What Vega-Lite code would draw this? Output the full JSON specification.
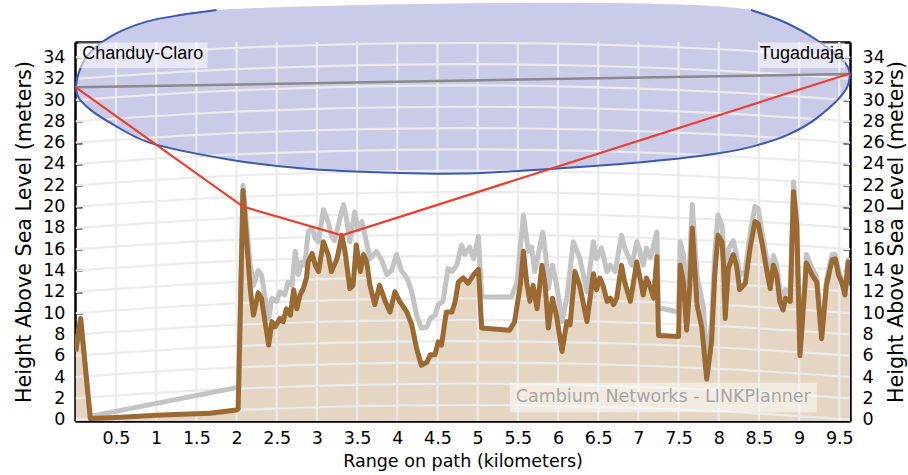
{
"$schema": "https://vega.github.io/schema/vega-lite/v6.json",
"width": 775, "height": 379,
"autosize": {"type": "none"},
"padding": {"left": 75, "top": 42, "right": 58, "bottom": 54},
"background": "#ffffff",
"config": {"view": {"stroke": null}, "font": "DejaVu Sans"},
"resolve": {"axis": {"x": "independent", "y": "independent"}},
"datasets": {
"terrain": [
{"x":0,"h":6.4},{"x":0.06,"h":9.5},{"x":0.18,"h":0.1},{"x":0.5,"h":0.2},{"x":1.0,"h":0.4},{"x":1.67,"h":0.6},{"x":2.0,"h":0.9},{"x":2.02,"h":1.0},{"x":2.08,"h":21.5},{"x":2.17,"h":12.3},{"x":2.21,"h":9.8},{"x":2.27,"h":11.9},{"x":2.31,"h":11.4},{"x":2.33,"h":10.4},{"x":2.40,"h":7.0},{"x":2.44,"h":9.2},{"x":2.48,"h":8.7},{"x":2.54,"h":9.5},{"x":2.58,"h":9.2},{"x":2.62,"h":10.4},{"x":2.67,"h":9.8},{"x":2.71,"h":12.2},{"x":2.75,"h":10.4},{"x":2.79,"h":11.7},{"x":2.83,"h":12.3},{"x":2.87,"h":13.3},{"x":2.89,"h":14.8},{"x":2.94,"h":15.6},{"x":2.98,"h":14.5},{"x":3.02,"h":13.9},{"x":3.08,"h":16.7},{"x":3.14,"h":15.5},{"x":3.18,"h":13.9},{"x":3.25,"h":15.1},{"x":3.31,"h":17.3},{"x":3.35,"h":15.8},{"x":3.41,"h":12.3},{"x":3.45,"h":12.6},{"x":3.49,"h":16.4},{"x":3.54,"h":13.9},{"x":3.58,"h":15.5},{"x":3.62,"h":14.8},{"x":3.66,"h":12.6},{"x":3.72,"h":10.8},{"x":3.78,"h":12.6},{"x":3.85,"h":11.1},{"x":3.91,"h":10.1},{"x":3.97,"h":12.0},{"x":4.03,"h":11.1},{"x":4.12,"h":10.1},{"x":4.18,"h":8.9},{"x":4.24,"h":6.7},{"x":4.30,"h":5.1},{"x":4.37,"h":5.4},{"x":4.41,"h":6.1},{"x":4.47,"h":6.1},{"x":4.51,"h":7.3},{"x":4.55,"h":7.0},{"x":4.61,"h":10.1},{"x":4.68,"h":10.1},{"x":4.72,"h":11.1},{"x":4.76,"h":12.9},{"x":4.82,"h":13.3},{"x":4.88,"h":12.8},{"x":4.95,"h":13.6},{"x":5.01,"h":14.1},{"x":5.05,"h":8.6},{"x":5.40,"h":8.4},{"x":5.46,"h":9.2},{"x":5.53,"h":12.6},{"x":5.57,"h":15.8},{"x":5.61,"h":12.9},{"x":5.65,"h":11.1},{"x":5.69,"h":12.6},{"x":5.74,"h":10.4},{"x":5.80,"h":14.5},{"x":5.84,"h":12.6},{"x":5.88,"h":8.6},{"x":5.93,"h":11.4},{"x":5.98,"h":9.8},{"x":6.05,"h":6.4},{"x":6.11,"h":9.2},{"x":6.15,"h":8.9},{"x":6.21,"h":13.9},{"x":6.27,"h":12.6},{"x":6.36,"h":9.2},{"x":6.44,"h":13.7},{"x":6.48,"h":12.2},{"x":6.52,"h":13.3},{"x":6.56,"h":12.6},{"x":6.61,"h":11.1},{"x":6.65,"h":11.4},{"x":6.69,"h":10.8},{"x":6.73,"h":11.4},{"x":6.79,"h":14.5},{"x":6.83,"h":12.9},{"x":6.90,"h":11.1},{"x":6.98,"h":14.8},{"x":7.02,"h":13.3},{"x":7.06,"h":11.7},{"x":7.10,"h":13.3},{"x":7.14,"h":12.6},{"x":7.19,"h":11.4},{"x":7.23,"h":15.3},{"x":7.25,"h":7.9},{"x":7.50,"h":7.8},{"x":7.52,"h":14.5},{"x":7.56,"h":12.9},{"x":7.60,"h":8.4},{"x":7.64,"h":12.6},{"x":7.67,"h":18.0},{"x":7.73,"h":10.8},{"x":7.79,"h":8.6},{"x":7.85,"h":3.8},{"x":7.91,"h":7.3},{"x":7.95,"h":13.6},{"x":7.99,"h":17.3},{"x":8.04,"h":16.7},{"x":8.06,"h":14.5},{"x":8.08,"h":9.5},{"x":8.12,"h":14.2},{"x":8.18,"h":15.5},{"x":8.22,"h":14.5},{"x":8.26,"h":12.2},{"x":8.33,"h":12.8},{"x":8.39,"h":16.1},{"x":8.45,"h":18.6},{"x":8.49,"h":18.4},{"x":8.54,"h":16.5},{"x":8.60,"h":13.9},{"x":8.64,"h":12.3},{"x":8.68,"h":14.5},{"x":8.72,"h":13.6},{"x":8.76,"h":11.1},{"x":8.80,"h":10.3},{"x":8.83,"h":11.4},{"x":8.89,"h":11.1},{"x":8.93,"h":21.4},{"x":8.97,"h":18.3},{"x":9.01,"h":6.0},{"x":9.07,"h":12.3},{"x":9.09,"h":14.7},{"x":9.16,"h":13.6},{"x":9.22,"h":12.9},{"x":9.28,"h":7.6},{"x":9.34,"h":12.6},{"x":9.41,"h":15.0},{"x":9.45,"h":15.1},{"x":9.49,"h":13.6},{"x":9.53,"h":12.9},{"x":9.57,"h":11.7},{"x":9.61,"h":14.8},{"x":9.65,"h":12.6}
],
"clutter": [
{"x":0,"h":6.4},{"x":0.06,"h":9.5},{"x":0.18,"h":0.3},{"x":2.0,"h":3.0},{"x":2.03,"h":3.1},{"x":2.08,"h":22.0},{"x":2.17,"h":14.5},{"x":2.21,"h":12.6},{"x":2.27,"h":14.0},{"x":2.31,"h":13.6},{"x":2.35,"h":11.7},{"x":2.40,"h":9.5},{"x":2.44,"h":11.4},{"x":2.50,"h":11.1},{"x":2.54,"h":12.0},{"x":2.60,"h":11.7},{"x":2.64,"h":12.9},{"x":2.69,"h":12.6},{"x":2.73,"h":15.8},{"x":2.77,"h":13.6},{"x":2.81,"h":14.8},{"x":2.85,"h":14.5},{"x":2.89,"h":17.6},{"x":2.94,"h":18.0},{"x":2.98,"h":17.0},{"x":3.02,"h":16.7},{"x":3.08,"h":19.7},{"x":3.14,"h":18.6},{"x":3.18,"h":17.3},{"x":3.22,"h":16.8},{"x":3.29,"h":19.0},{"x":3.33,"h":20.2},{"x":3.37,"h":18.8},{"x":3.41,"h":16.7},{"x":3.47,"h":19.5},{"x":3.51,"h":17.8},{"x":3.56,"h":18.6},{"x":3.61,"h":16.9},{"x":3.66,"h":15.1},{"x":3.74,"h":15.8},{"x":3.80,"h":15.1},{"x":3.87,"h":13.6},{"x":3.93,"h":14.0},{"x":3.99,"h":15.5},{"x":4.05,"h":14.0},{"x":4.12,"h":13.3},{"x":4.18,"h":12.0},{"x":4.24,"h":9.8},{"x":4.30,"h":8.6},{"x":4.37,"h":8.7},{"x":4.41,"h":9.5},{"x":4.47,"h":9.8},{"x":4.51,"h":10.8},{"x":4.57,"h":11.1},{"x":4.63,"h":14.2},{"x":4.68,"h":13.9},{"x":4.74,"h":14.5},{"x":4.80,"h":16.4},{"x":4.84,"h":15.5},{"x":4.90,"h":16.2},{"x":4.95,"h":15.1},{"x":5.01,"h":17.2},{"x":5.05,"h":11.5},{"x":5.42,"h":11.5},{"x":5.49,"h":12.9},{"x":5.57,"h":19.2},{"x":5.63,"h":15.8},{"x":5.67,"h":16.2},{"x":5.71,"h":13.9},{"x":5.81,"h":17.6},{"x":5.85,"h":15.2},{"x":5.88,"h":12.3},{"x":5.93,"h":14.5},{"x":5.98,"h":12.8},{"x":6.05,"h":9.2},{"x":6.11,"h":11.4},{"x":6.19,"h":16.7},{"x":6.27,"h":15.2},{"x":6.36,"h":12.0},{"x":6.44,"h":16.7},{"x":6.48,"h":15.1},{"x":6.54,"h":16.1},{"x":6.61,"h":13.9},{"x":6.65,"h":14.5},{"x":6.71,"h":13.9},{"x":6.79,"h":17.3},{"x":6.83,"h":16.1},{"x":6.92,"h":14.5},{"x":6.98,"h":16.7},{"x":7.02,"h":15.8},{"x":7.06,"h":14.5},{"x":7.10,"h":16.1},{"x":7.15,"h":15.2},{"x":7.23,"h":17.6},{"x":7.25,"h":10.5},{"x":7.50,"h":10.1},{"x":7.52,"h":16.7},{"x":7.56,"h":15.5},{"x":7.60,"h":11.5},{"x":7.64,"h":15.0},{"x":7.67,"h":20.2},{"x":7.73,"h":13.5},{"x":7.81,"h":10.5},{"x":7.85,"h":5.5},{"x":7.91,"h":9.0},{"x":7.95,"h":15.5},{"x":7.99,"h":19.2},{"x":8.04,"h":18.3},{"x":8.06,"h":16.0},{"x":8.08,"h":11.0},{"x":8.12,"h":16.0},{"x":8.18,"h":16.8},{"x":8.22,"h":15.5},{"x":8.26,"h":13.5},{"x":8.33,"h":14.0},{"x":8.39,"h":17.5},{"x":8.45,"h":20.0},{"x":8.49,"h":19.8},{"x":8.54,"h":17.5},{"x":8.60,"h":15.0},{"x":8.64,"h":13.5},{"x":8.68,"h":15.4},{"x":8.72,"h":14.5},{"x":8.76,"h":12.2},{"x":8.80,"h":11.3},{"x":8.83,"h":12.2},{"x":8.89,"h":11.8},{"x":8.93,"h":22.3},{"x":8.97,"h":19.0},{"x":9.01,"h":6.5},{"x":9.07,"h":13.0},{"x":9.09,"h":15.5},{"x":9.16,"h":14.2},{"x":9.22,"h":13.4},{"x":9.28,"h":8.0},{"x":9.34,"h":13.1},{"x":9.41,"h":15.5},{"x":9.45,"h":15.5},{"x":9.49,"h":14.0},{"x":9.53,"h":13.2},{"x":9.57,"h":12.0},{"x":9.61,"h":15.0},{"x":9.65,"h":12.8}
],
"ell": [
{"o":1,"s":"ul","x":0,"y":31.2},{"o":2,"s":"ul","x":0.03,"y":32.4},{"o":3,"s":"ul","x":0.136,"y":34.07},{"o":4,"s":"ul","x":0.43,"y":35.95},{"o":5,"s":"ul","x":0.88,"y":37.36},{"o":6,"s":"ul","x":1.32,"y":38.0},{"o":7,"s":"ul","x":1.75,"y":38.46},
{"o":8,"s":"ur","x":8.4,"y":38.46},{"o":9,"s":"ur","x":8.85,"y":37.21},{"o":10,"s":"ur","x":9.22,"y":35.64},{"o":11,"s":"ur","x":9.49,"y":34.07},{"o":12,"s":"ur","x":9.6,"y":33.2},{"o":13,"s":"ur","x":9.633,"y":32.45},
{"o":14,"s":"lo","x":9.633,"y":32.45},{"o":15,"s":"lo","x":9.59,"y":31.1},{"o":16,"s":"lo","x":9.22,"y":28.3},{"o":17,"s":"lo","x":8.85,"y":26.7},{"o":18,"s":"lo","x":8.45,"y":25.7},{"o":19,"s":"lo","x":8.0,"y":25.0},{"o":20,"s":"lo","x":7.1,"y":24.2},{"o":21,"s":"lo","x":5.86,"y":23.5},{"o":22,"s":"lo","x":5.27,"y":23.25},{"o":23,"s":"lo","x":4.8,"y":23.1},{"o":24,"s":"lo","x":4.03,"y":23.15},{"o":25,"s":"lo","x":2.79,"y":23.6},{"o":26,"s":"lo","x":1.92,"y":24.4},{"o":27,"s":"lo","x":0.88,"y":26.1},{"o":28,"s":"lo","x":0.51,"y":27.5},{"o":29,"s":"lo","x":0.18,"y":29.1},{"o":30,"s":"lo","x":0.03,"y":30.3},{"o":31,"s":"lo","x":0,"y":31.2}
],
"grid": [
{"v":0,"x":0,"y":0},{"v":0,"x":1.6,"y":0.76},{"v":0,"x":3.2,"y":1.21},{"v":0,"x":4.82,"y":1.37},{"v":0,"x":6.4,"y":1.22},{"v":0,"x":8.0,"y":0.77},{"v":0,"x":9.64,"y":0},
{"v":2,"x":0,"y":2},{"v":2,"x":1.6,"y":2.76},{"v":2,"x":3.2,"y":3.21},{"v":2,"x":4.82,"y":3.37},{"v":2,"x":6.4,"y":3.22},{"v":2,"x":8.0,"y":2.77},{"v":2,"x":9.64,"y":2},
{"v":4,"x":0,"y":4},{"v":4,"x":1.6,"y":4.76},{"v":4,"x":3.2,"y":5.21},{"v":4,"x":4.82,"y":5.37},{"v":4,"x":6.4,"y":5.22},{"v":4,"x":8.0,"y":4.77},{"v":4,"x":9.64,"y":4},
{"v":6,"x":0,"y":6},{"v":6,"x":1.6,"y":6.76},{"v":6,"x":3.2,"y":7.21},{"v":6,"x":4.82,"y":7.37},{"v":6,"x":6.4,"y":7.22},{"v":6,"x":8.0,"y":6.77},{"v":6,"x":9.64,"y":6},
{"v":8,"x":0,"y":8},{"v":8,"x":1.6,"y":8.76},{"v":8,"x":3.2,"y":9.21},{"v":8,"x":4.82,"y":9.37},{"v":8,"x":6.4,"y":9.22},{"v":8,"x":8.0,"y":8.77},{"v":8,"x":9.64,"y":8},
{"v":10,"x":0,"y":10},{"v":10,"x":1.6,"y":10.76},{"v":10,"x":3.2,"y":11.21},{"v":10,"x":4.82,"y":11.37},{"v":10,"x":6.4,"y":11.22},{"v":10,"x":8.0,"y":10.77},{"v":10,"x":9.64,"y":10},
{"v":12,"x":0,"y":12},{"v":12,"x":1.6,"y":12.76},{"v":12,"x":3.2,"y":13.21},{"v":12,"x":4.82,"y":13.37},{"v":12,"x":6.4,"y":13.22},{"v":12,"x":8.0,"y":12.77},{"v":12,"x":9.64,"y":12},
{"v":14,"x":0,"y":14},{"v":14,"x":1.6,"y":14.76},{"v":14,"x":3.2,"y":15.21},{"v":14,"x":4.82,"y":15.37},{"v":14,"x":6.4,"y":15.22},{"v":14,"x":8.0,"y":14.77},{"v":14,"x":9.64,"y":14},
{"v":16,"x":0,"y":16},{"v":16,"x":1.6,"y":16.76},{"v":16,"x":3.2,"y":17.21},{"v":16,"x":4.82,"y":17.37},{"v":16,"x":6.4,"y":17.22},{"v":16,"x":8.0,"y":16.77},{"v":16,"x":9.64,"y":16},
{"v":18,"x":0,"y":18},{"v":18,"x":1.6,"y":18.76},{"v":18,"x":3.2,"y":19.21},{"v":18,"x":4.82,"y":19.37},{"v":18,"x":6.4,"y":19.22},{"v":18,"x":8.0,"y":18.77},{"v":18,"x":9.64,"y":18},
{"v":20,"x":0,"y":20},{"v":20,"x":1.6,"y":20.76},{"v":20,"x":3.2,"y":21.21},{"v":20,"x":4.82,"y":21.37},{"v":20,"x":6.4,"y":21.22},{"v":20,"x":8.0,"y":20.77},{"v":20,"x":9.64,"y":20},
{"v":22,"x":0,"y":22},{"v":22,"x":1.6,"y":22.76},{"v":22,"x":3.2,"y":23.21},{"v":22,"x":4.82,"y":23.37},{"v":22,"x":6.4,"y":23.22},{"v":22,"x":8.0,"y":22.77},{"v":22,"x":9.64,"y":22},
{"v":24,"x":0,"y":24},{"v":24,"x":1.6,"y":24.76},{"v":24,"x":3.2,"y":25.21},{"v":24,"x":4.82,"y":25.37},{"v":24,"x":6.4,"y":25.22},{"v":24,"x":8.0,"y":24.77},{"v":24,"x":9.64,"y":24},
{"v":26,"x":0,"y":26},{"v":26,"x":1.6,"y":26.76},{"v":26,"x":3.2,"y":27.21},{"v":26,"x":4.82,"y":27.37},{"v":26,"x":6.4,"y":27.22},{"v":26,"x":8.0,"y":26.77},{"v":26,"x":9.64,"y":26},
{"v":28,"x":0,"y":28},{"v":28,"x":1.6,"y":28.76},{"v":28,"x":3.2,"y":29.21},{"v":28,"x":4.82,"y":29.37},{"v":28,"x":6.4,"y":29.22},{"v":28,"x":8.0,"y":28.77},{"v":28,"x":9.64,"y":28},
{"v":30,"x":0,"y":30},{"v":30,"x":1.6,"y":30.76},{"v":30,"x":3.2,"y":31.21},{"v":30,"x":4.82,"y":31.37},{"v":30,"x":6.4,"y":31.22},{"v":30,"x":8.0,"y":30.77},{"v":30,"x":9.64,"y":30},
{"v":32,"x":0,"y":32},{"v":32,"x":1.6,"y":32.76},{"v":32,"x":3.2,"y":33.21},{"v":32,"x":4.82,"y":33.37},{"v":32,"x":6.4,"y":33.22},{"v":32,"x":8.0,"y":32.77},{"v":32,"x":9.64,"y":32},
{"v":34,"x":0,"y":34},{"v":34,"x":1.6,"y":34.76},{"v":34,"x":3.2,"y":35.21},{"v":34,"x":4.82,"y":35.37},{"v":34,"x":6.4,"y":35.22},{"v":34,"x":8.0,"y":34.77},{"v":34,"x":9.64,"y":34}
],
"vgrid": [{"x":0.5},{"x":1},{"x":1.5},{"x":2},{"x":2.5},{"x":3},{"x":3.5},{"x":4},{"x":4.5},{"x":5},{"x":5.5},{"x":6},{"x":6.5},{"x":7},{"x":7.5},{"x":8},{"x":8.5},{"x":9},{"x":9.5}],
"boxes": [{"x":0.03,"x2":1.64,"y":33.0,"y2":35.4},{"x":8.51,"x2":9.57,"y":33.0,"y2":35.4}],
"wbox": [{"x":5.4,"x2":9.22,"y":0.7,"y2":3.45}],
"los": [{"x":0,"y":31.2},{"x":9.633,"y":32.45}],
"red": [{"x":0,"y":31.2},{"x":2.08,"y":20.0},{"x":3.31,"y":17.3},{"x":9.633,"y":32.5}],
"lbl1": [{"t":"Chanduy-Claro","x":0.08,"y":34.3}],
"lbl2": [{"t":"Tugaduaja","x":9.56,"y":34.3}],
"wm": [{"t":"Cambium Networks - LINKPlanner","x":7.31,"y":2.1}]
},
"layer": [
{"data":{"name":"terrain"},"mark":{"type":"area","color":"#e5d6c3","clip":true},
 "encoding":{
  "x":{"field":"x","type":"quantitative","scale":{"domain":[-0.01,9.633],"nice":false,"zero":false},
   "axis":{"orient":"bottom","values":[0.5,1,1.5,2,2.5,3,3.5,4,4.5,5,5.5,6,6.5,7,7.5,8,8.5,9,9.5],"format":"~g","title":"Range on path (kilometers)","titleFont":"DejaVu Sans","titleFontSize":17.5,"titleFontWeight":"normal","titleColor":"#000","titlePadding":6,"labelFont":"DejaVu Sans","labelFontSize":17.5,"labelColor":"#000","labelPadding":15,"labelFlush":false,"labelOverlap":false,"tickSize":-7,"tickWidth":2,"tickColor":"#000","domainColor":"#000","domainWidth":2.5,"grid":false}},
  "y":{"field":"h","type":"quantitative","scale":{"domain":[-0.13,35.45],"nice":false,"zero":false},
   "axis":{"orient":"left","values":[0,2,4,6,8,10,12,14,16,18,20,22,24,26,28,30,32,34],"format":"d","title":"Height Above Sea Level (meters)","titleFont":"DejaVu Sans","titleFontSize":20.7,"titleFontWeight":"normal","titleColor":"#000","titleAngle":270,"titlePadding":8,"labelFont":"DejaVu Sans","labelFontSize":17.5,"labelColor":"#000","labelPadding":17,"labelFlush":false,"labelOverlap":false,"tickSize":-7,"tickWidth":2,"tickColor":"#000","domainColor":"#000","domainWidth":2.5,"grid":false}},
  "y2":{"datum":-0.13}}},
{"data":{"name":"ell"},"mark":{"type":"line","fill":"#c9cbe8","stroke":null,"strokeWidth":0,"interpolate":"catmull-rom","clip":false},
 "encoding":{"x":{"field":"x","type":"quantitative","axis":null},"y":{"field":"y","type":"quantitative","axis":null},"order":{"field":"o","type":"quantitative"}}},
{"data":{"name":"grid"},"mark":{"type":"line","color":"#ebebeb","strokeWidth":2.2,"interpolate":"monotone","clip":true},
 "encoding":{"x":{"field":"x","type":"quantitative","axis":null},"y":{"field":"y","type":"quantitative","axis":null},"detail":{"field":"v","type":"nominal"}}},
{"data":{"name":"vgrid"},"mark":{"type":"rule","color":"#ebebeb","strokeWidth":2.2},
 "encoding":{"x":{"field":"x","type":"quantitative","axis":null}}},
{"data":{"name":"clutter"},"mark":{"type":"line","color":"#c3c3c3","strokeWidth":5,"strokeJoin":"round","clip":true},
 "encoding":{
  "x":{"field":"x","type":"quantitative","axis":{"orient":"top","values":[0.5,1,1.5,2,2.5,3,3.5,4,4.5,5,5.5,6,6.5,7,7.5,8,8.5,9,9.5],"labels":false,"title":null,"tickSize":-7,"tickWidth":2,"tickColor":"#000","domainColor":"#000","domainWidth":2.5,"grid":false}},
  "y":{"field":"h","type":"quantitative","axis":{"orient":"right","values":[0,2,4,6,8,10,12,14,16,18,20,22,24,26,28,30,32,34],"format":"d","title":"Height Above Sea Level (meters)","titleFont":"DejaVu Sans","titleFontSize":20.7,"titleFontWeight":"normal","titleColor":"#000","titleAngle":270,"titleBaseline":"top","titlePadding":2,"labelFont":"DejaVu Sans","labelFontSize":17.5,"labelColor":"#000","labelPadding":19,"labelFlush":false,"labelOverlap":false,"tickSize":-7,"tickWidth":2,"tickColor":"#000","domainColor":"#000","domainWidth":2.5,"grid":false}}}},
{"data":{"name":"terrain"},"mark":{"type":"line","color":"#9b6a32","strokeWidth":5,"strokeJoin":"round","clip":true},
 "encoding":{"x":{"field":"x","type":"quantitative","axis":null},"y":{"field":"h","type":"quantitative","axis":null}}},
{"data":{"name":"ell"},"mark":{"type":"line","color":"#3b58b3","strokeWidth":2,"interpolate":"catmull-rom","clip":false},
 "encoding":{"x":{"field":"x","type":"quantitative","axis":null},"y":{"field":"y","type":"quantitative","axis":null},"order":{"field":"o","type":"quantitative"},"detail":{"field":"s","type":"nominal"}}},
{"data":{"name":"los"},"mark":{"type":"line","color":"#8a8a8a","strokeWidth":2.5},
 "encoding":{"x":{"field":"x","type":"quantitative","axis":null},"y":{"field":"y","type":"quantitative","axis":null}}},
{"data":{"name":"red"},"mark":{"type":"line","color":"#f03c2c","strokeWidth":2.2},
 "encoding":{"x":{"field":"x","type":"quantitative","axis":null},"y":{"field":"y","type":"quantitative","axis":null}}},
{"data":{"name":"boxes"},"mark":{"type":"rect","color":"#ffffff","opacity":0.55},
 "encoding":{"x":{"field":"x","type":"quantitative","axis":null},"x2":{"field":"x2"},"y":{"field":"y","type":"quantitative","axis":null},"y2":{"field":"y2"}}},
{"data":{"name":"wbox"},"mark":{"type":"rect","color":"#ffffff","opacity":0.5},
 "encoding":{"x":{"field":"x","type":"quantitative","axis":null},"x2":{"field":"x2"},"y":{"field":"y","type":"quantitative","axis":null},"y2":{"field":"y2"}}},
{"data":{"name":"lbl1"},"mark":{"type":"text","align":"left","baseline":"middle","font":"Liberation Sans","fontSize":18,"color":"#000"},
 "encoding":{"x":{"field":"x","type":"quantitative","axis":null},"y":{"field":"y","type":"quantitative","axis":null},"text":{"field":"t"}}},
{"data":{"name":"lbl2"},"mark":{"type":"text","align":"right","baseline":"middle","font":"Liberation Sans","fontSize":18,"color":"#000"},
 "encoding":{"x":{"field":"x","type":"quantitative","axis":null},"y":{"field":"y","type":"quantitative","axis":null},"text":{"field":"t"}}},
{"data":{"name":"wm"},"mark":{"type":"text","align":"center","baseline":"middle","font":"DejaVu Sans","fontSize":17.5,"color":"#a6a6a6"},
 "encoding":{"x":{"field":"x","type":"quantitative","axis":null},"y":{"field":"y","type":"quantitative","axis":null},"text":{"field":"t"}}}
]
}
